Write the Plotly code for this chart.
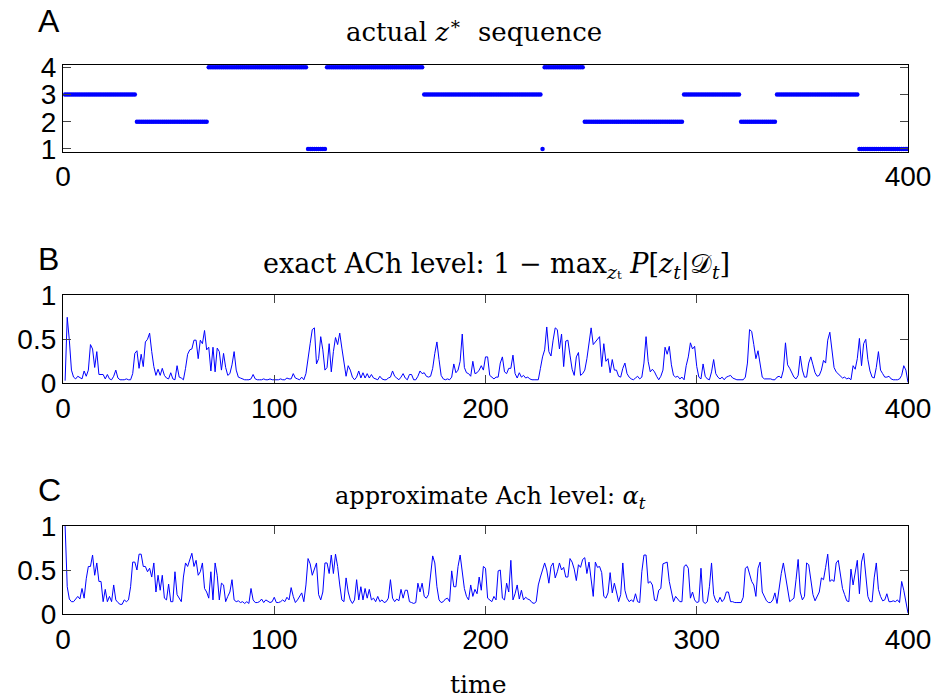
import plotly.graph_objects as go

# ---------------- data ----------------
# Panel A: actual z* sequence as runs (state, run length), t = 1..400
z_states = [3, 2, 4, 1, 4, 3, 1, 4, 2, 3, 2, 3, 1]
z_run_lengths = [34, 34, 47, 9, 46, 56, 1, 19, 47, 27, 17, 39, 24]

# Panel B: exact ACh level, t = 1..400
exact_ach = [
    0.03, 0.75, 0.49, 0.15, 0.07, 0.05, 0.08, 0.06, 0.05, 0.14,
    0.08, 0.15, 0.44, 0.39, 0.18, 0.36, 0.10, 0.10, 0.10, 0.05,
    0.10, 0.05, 0.04, 0.08, 0.15, 0.06, 0.04, 0.04, 0.04, 0.05,
    0.04, 0.04, 0.11, 0.34, 0.37, 0.17, 0.33, 0.19, 0.47, 0.50,
    0.57, 0.36, 0.19, 0.09, 0.16, 0.09, 0.17, 0.09, 0.06, 0.05,
    0.12, 0.05, 0.04, 0.20, 0.07, 0.06, 0.04, 0.17, 0.33, 0.38,
    0.39, 0.49, 0.49, 0.28, 0.49, 0.45, 0.60, 0.38, 0.41, 0.14,
    0.41, 0.13, 0.40, 0.36, 0.15, 0.34, 0.18, 0.09, 0.11, 0.21,
    0.36, 0.15, 0.07, 0.06, 0.05, 0.04, 0.04, 0.04, 0.05, 0.10,
    0.05, 0.04, 0.04, 0.04, 0.05, 0.04, 0.04, 0.05, 0.04, 0.04,
    0.04, 0.04, 0.05, 0.04, 0.04, 0.06, 0.05, 0.05, 0.11, 0.06,
    0.05, 0.04, 0.07, 0.04, 0.11, 0.30, 0.45, 0.61, 0.63, 0.22,
    0.28, 0.53, 0.38, 0.15, 0.18, 0.45, 0.13, 0.36, 0.52, 0.44,
    0.57, 0.40, 0.21, 0.08, 0.20, 0.15, 0.07, 0.04, 0.07, 0.14,
    0.06, 0.12, 0.06, 0.11, 0.06, 0.10, 0.06, 0.05, 0.04, 0.08,
    0.05, 0.04, 0.04, 0.06, 0.07, 0.14, 0.08, 0.06, 0.04, 0.07,
    0.11, 0.06, 0.04, 0.10, 0.10, 0.04, 0.04, 0.08, 0.14, 0.11,
    0.12, 0.08, 0.07, 0.08, 0.17, 0.34, 0.47, 0.27, 0.09, 0.05,
    0.04, 0.05, 0.04, 0.07, 0.22, 0.12, 0.15, 0.25, 0.56, 0.18,
    0.12, 0.11, 0.08, 0.25, 0.11, 0.12, 0.15, 0.20, 0.15, 0.30,
    0.30, 0.09, 0.07, 0.05, 0.07, 0.07, 0.23, 0.30, 0.13, 0.11,
    0.17, 0.17, 0.32, 0.11, 0.06, 0.12, 0.07, 0.09, 0.06, 0.07,
    0.05, 0.04, 0.04, 0.04, 0.04, 0.17, 0.30, 0.38, 0.64, 0.36,
    0.31, 0.49, 0.63, 0.61, 0.39, 0.56, 0.19, 0.48, 0.49, 0.32,
    0.16, 0.09, 0.30, 0.35, 0.09, 0.11, 0.15, 0.28, 0.49, 0.63,
    0.44, 0.47, 0.49, 0.53, 0.19, 0.45, 0.25, 0.28, 0.12, 0.27,
    0.15, 0.15, 0.08, 0.07, 0.17, 0.23, 0.11, 0.07, 0.05, 0.04,
    0.06, 0.08, 0.05, 0.07, 0.23, 0.53, 0.25, 0.13, 0.16, 0.13,
    0.08, 0.04, 0.08, 0.15, 0.41, 0.33, 0.42, 0.21, 0.09, 0.07,
    0.08, 0.05, 0.07, 0.04, 0.20, 0.30, 0.46, 0.39, 0.42, 0.19,
    0.07, 0.05, 0.22, 0.08, 0.05, 0.04, 0.13, 0.27, 0.11, 0.07,
    0.05, 0.07, 0.04, 0.07, 0.08, 0.09, 0.06, 0.05, 0.04, 0.04,
    0.04, 0.04, 0.07, 0.23, 0.61, 0.59, 0.44, 0.28, 0.37, 0.19,
    0.07, 0.05, 0.05, 0.05, 0.05, 0.04, 0.04, 0.07, 0.08, 0.06,
    0.15, 0.46, 0.21, 0.17, 0.12, 0.07, 0.05, 0.09, 0.31, 0.15,
    0.07, 0.07, 0.23, 0.30, 0.21, 0.12, 0.08, 0.09, 0.15, 0.26,
    0.23, 0.49, 0.58, 0.36, 0.18, 0.13, 0.11, 0.08, 0.06, 0.07,
    0.05, 0.06, 0.04, 0.20, 0.16, 0.28, 0.51, 0.20, 0.45, 0.50,
    0.27, 0.14, 0.07, 0.06, 0.18, 0.36, 0.15, 0.11, 0.07, 0.07,
    0.08, 0.05, 0.04, 0.04, 0.04, 0.05, 0.09, 0.20, 0.15, 0.01,
]

# Panel C: approximate ACh level alpha_t, t = 1..400
approx_ach = [
    1.00, 0.31, 0.17, 0.14, 0.14, 0.17, 0.20, 0.17, 0.29, 0.18,
    0.40, 0.54, 0.54, 0.67, 0.44, 0.58, 0.37, 0.37, 0.14, 0.28,
    0.14, 0.20, 0.14, 0.33, 0.16, 0.13, 0.11, 0.11, 0.16, 0.14,
    0.16, 0.31, 0.59, 0.59, 0.50, 0.68, 0.68, 0.54, 0.54, 0.48,
    0.52, 0.42, 0.58, 0.25, 0.44, 0.27, 0.44, 0.18, 0.16, 0.34,
    0.14, 0.14, 0.48, 0.22, 0.18, 0.14, 0.42, 0.58, 0.54, 0.62,
    0.69, 0.54, 0.61, 0.44, 0.48, 0.58, 0.29, 0.25, 0.18, 0.48,
    0.16, 0.58, 0.44, 0.16, 0.35, 0.33, 0.14, 0.20, 0.25, 0.39,
    0.16, 0.14, 0.15, 0.13, 0.14, 0.12, 0.14, 0.12, 0.29, 0.16,
    0.13, 0.13, 0.14, 0.17, 0.13, 0.16, 0.14, 0.13, 0.14, 0.19,
    0.13, 0.13, 0.14, 0.16, 0.14, 0.19, 0.16, 0.30, 0.20, 0.13,
    0.16, 0.20, 0.24, 0.14, 0.33, 0.63, 0.57, 0.44, 0.51, 0.58,
    0.22, 0.16, 0.25, 0.58, 0.58, 0.46, 0.67, 0.46, 0.68, 0.54,
    0.33, 0.16, 0.14, 0.41, 0.25, 0.16, 0.12, 0.16, 0.39, 0.16,
    0.31, 0.16, 0.29, 0.18, 0.28, 0.16, 0.18, 0.14, 0.20, 0.14,
    0.16, 0.13, 0.14, 0.18, 0.39, 0.18, 0.14, 0.17, 0.15, 0.28,
    0.18, 0.27, 0.27, 0.14, 0.13, 0.12, 0.13, 0.35, 0.25, 0.35,
    0.20, 0.18, 0.22, 0.42, 0.66, 0.58, 0.31, 0.16, 0.13, 0.14,
    0.17, 0.18, 0.14, 0.49, 0.31, 0.31, 0.54, 0.67, 0.46, 0.29,
    0.20, 0.16, 0.33, 0.20, 0.28, 0.23, 0.42, 0.27, 0.54, 0.52,
    0.18, 0.16, 0.14, 0.20, 0.16, 0.49, 0.50, 0.18, 0.16, 0.35,
    0.25, 0.61, 0.16, 0.23, 0.33, 0.17, 0.27, 0.16, 0.19, 0.17,
    0.16, 0.13, 0.12, 0.14, 0.33, 0.42, 0.51, 0.58, 0.50, 0.35,
    0.54, 0.58, 0.41, 0.48, 0.58, 0.50, 0.53, 0.42, 0.42, 0.63,
    0.59, 0.51, 0.38, 0.56, 0.53, 0.62, 0.64, 0.46, 0.59, 0.39,
    0.20, 0.59, 0.53, 0.54, 0.47, 0.20, 0.18, 0.24, 0.47, 0.24,
    0.35, 0.25, 0.14, 0.22, 0.58, 0.27, 0.18, 0.14, 0.16, 0.14,
    0.23, 0.14, 0.13, 0.48, 0.67, 0.67, 0.35, 0.37, 0.33, 0.16,
    0.15, 0.27, 0.29, 0.57, 0.58, 0.59, 0.37, 0.25, 0.14, 0.20,
    0.17, 0.14, 0.14, 0.54, 0.56, 0.52, 0.18, 0.25, 0.16, 0.13,
    0.14, 0.52, 0.14, 0.12, 0.14, 0.31, 0.58, 0.22, 0.15, 0.13,
    0.19, 0.14, 0.17, 0.25, 0.25, 0.14, 0.14, 0.13, 0.13, 0.13,
    0.13, 0.19, 0.52, 0.54, 0.46, 0.37, 0.33, 0.20, 0.52, 0.59,
    0.25, 0.20, 0.15, 0.13, 0.13, 0.16, 0.24, 0.12, 0.31, 0.46,
    0.58, 0.44, 0.27, 0.14, 0.16, 0.18, 0.39, 0.62, 0.25, 0.16,
    0.20, 0.58, 0.56, 0.39, 0.22, 0.15, 0.20, 0.25, 0.41, 0.39,
    0.53, 0.68, 0.37, 0.39, 0.37, 0.58, 0.61, 0.44, 0.29, 0.22,
    0.15, 0.14, 0.51, 0.33, 0.49, 0.61, 0.23, 0.59, 0.69, 0.42,
    0.20, 0.14, 0.14, 0.41, 0.58, 0.28, 0.20, 0.15, 0.16, 0.23,
    0.14, 0.14, 0.15, 0.14, 0.16, 0.13, 0.37, 0.27, 0.16, 0.01,
]

x_ticks_a = [0, 400]
x_ticks_bc = [0, 100, 200, 300, 400]
y_ticks_a = [1, 2, 3, 4]
y_ticks_bc = [0, 0.5, 1]
y_ticklabels_bc = ["0", "0.5", "1"]

# ---------------- build ----------------
z_seq = []
for s, n in zip(z_states, z_run_lengths):
    z_seq.extend([s] * n)
t_a = list(range(1, len(z_seq) + 1))
t_b = list(range(1, len(exact_ach) + 1))
t_c = list(range(1, len(approx_ach) + 1))

W, H = 940, 700
BLUE = "#0000ff"
SANS = "Liberation Sans, Arial, sans-serif"
SERIF = "DejaVu Serif, serif"

def py(px):
    return 1 - px / H

x_dom = [63 / W, 908 / W]

fig = go.Figure()
fig.add_trace(go.Scatter(x=t_a, y=z_seq, mode="markers",
                         marker=dict(color=BLUE, size=4.5, line=dict(width=0)),
                         xaxis="x", yaxis="y", showlegend=False))
fig.add_trace(go.Scatter(x=t_b, y=exact_ach, mode="lines",
                         line=dict(color=BLUE, width=1),
                         xaxis="x2", yaxis="y2", showlegend=False))
fig.add_trace(go.Scatter(x=t_c, y=approx_ach, mode="lines",
                         line=dict(color=BLUE, width=1),
                         xaxis="x3", yaxis="y3", showlegend=False))

common = dict(showline=True, linecolor="black", linewidth=1.2, mirror="ticks",
              showgrid=False, zeroline=False, ticks="inside", ticklen=8,
              tickcolor="#444", tickwidth=1, automargin=False,
              tickfont=dict(family=SANS, size=28, color="black"))

fig.update_layout(
    template="none",
    width=W, height=H, margin=dict(l=0, r=0, t=0, b=0, pad=0),
    paper_bgcolor="white", plot_bgcolor="white", showlegend=False,
    xaxis=dict(domain=x_dom, anchor="y", range=[0, 400], tickvals=x_ticks_a, **common),
    yaxis=dict(domain=[py(151.7), py(64.5)], anchor="x", range=[0.9, 4.1],
               tickvals=y_ticks_a, **common),
    xaxis2=dict(domain=x_dom, anchor="y2", range=[0, 400], tickvals=x_ticks_bc, **common),
    yaxis2=dict(domain=[py(383.3), py(295.3)], anchor="x2", range=[0, 1],
                tickvals=y_ticks_bc, ticktext=y_ticklabels_bc, **common),
    xaxis3=dict(domain=x_dom, anchor="y3", range=[0, 400], tickvals=x_ticks_bc, **common),
    yaxis3=dict(domain=[py(614), py(526)], anchor="x3", range=[0, 1],
                tickvals=y_ticks_bc, ticktext=y_ticklabels_bc, **common),
)

def ann(text, x, y, size, family, xanchor="center"):
    fig.add_annotation(text=text, x=x / W, y=py(y), xref="paper", yref="paper",
                       showarrow=False, xanchor=xanchor, yanchor="middle",
                       font=dict(family=family, size=size, color="black"))

ann("A", 36, 21, 32, SANS, "left")
ann("B", 36, 259, 32, SANS, "left")
ann("C", 36, 490, 32, SANS, "left")
ann("actual <i>z</i><sup>∗</sup>  sequence", 474, 30, 26, SERIF)
ann("exact ACh level: 1 − max<sub><i>z</i>ₜ</sub> <i>P</i>[<i>z</i><sub><i>t</i></sub>|𝒟<sub><i>t</i></sub>]",
    496, 265, 27, SERIF)
ann("approximate Ach level: <i>α</i><sub><i>t</i></sub>", 491, 497, 24, SERIF)
ann("time", 478, 684, 25, SERIF)

fig.write_html("out.html", config={"displayModeBar": False},
               post_script="document.body.style.margin='0';document.body.style.overflow='hidden';")
